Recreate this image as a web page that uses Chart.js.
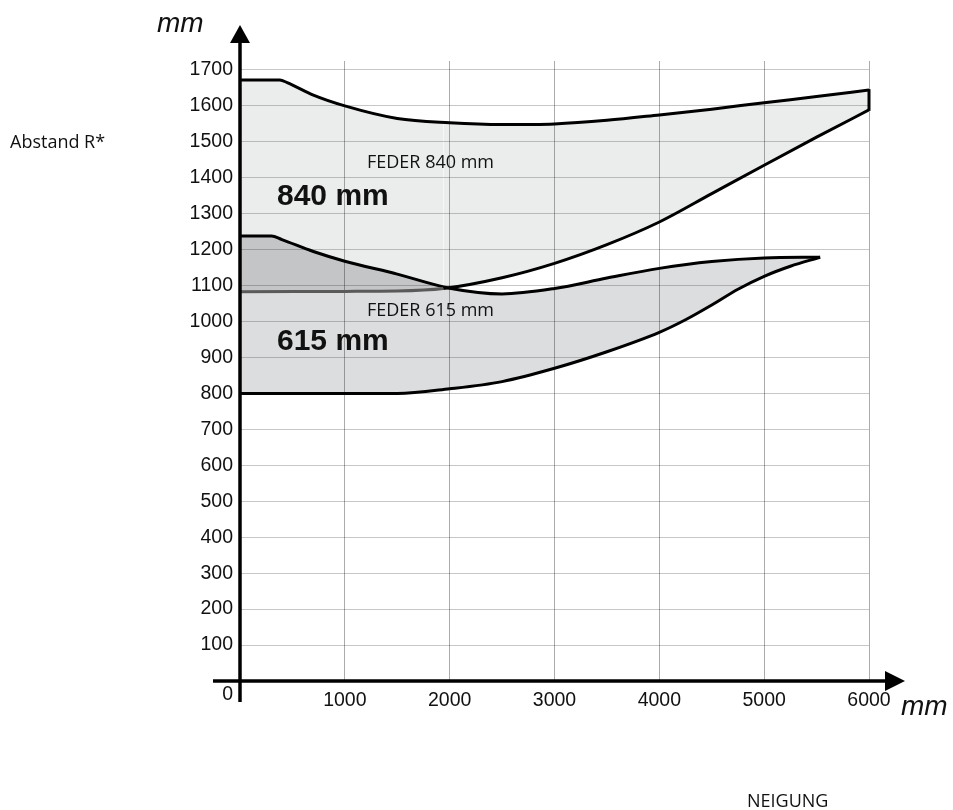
<!DOCTYPE html>
<html>
<head>
<meta charset="utf-8">
<script src="https://cdn.jsdelivr.net/npm/chart.js@4/dist/chart.umd.min.js"></script>
<style>
  html, body { margin: 0; padding: 0; background: #fff; }
  canvas { display: block; }
</style>
</head>
<body>
<canvas id="c" width="953" height="810"></canvas>
<script>
// ---- Data (x = Neigung mm, y = Abstand R* mm) ----
const feder840TopX = [0, 380, 450, 700, 1000, 1500, 2000, 2500, 3000, 3500, 4000, 4500, 5000, 5500, 6000];
const feder840TopY = [1672, 1672, 1665, 1630, 1600, 1565, 1553, 1548, 1550, 1560, 1575, 1591, 1609, 1626, 1644];

const feder840LowX = [0, 1000, 1500, 1940, 2500, 3000, 3500, 4000, 4500, 5000, 5500, 6000];
const feder840LowY = [1083, 1084, 1085, 1092, 1122, 1162, 1214, 1277, 1356, 1435, 1513, 1589];

const feder615TopX = [0, 300, 400, 700, 1000, 1500, 2000, 2500, 3000, 3500, 4000, 4500, 5000, 5534];
const feder615TopY = [1238, 1238, 1228, 1195, 1168, 1132, 1093, 1077, 1092, 1121, 1148, 1167, 1177, 1179];

const feder615LowX = [0, 1500, 2000, 2500, 3000, 3500, 4000, 4250, 4500, 4750, 5000, 5250, 5534];
const feder615LowY = [800, 800, 813, 833, 870, 916, 970, 1005, 1046, 1090, 1126, 1154, 1179];

const xTickValues = [1000, 2000, 3000, 4000, 5000, 6000];
const yTickValues = [100, 200, 300, 400, 500, 600, 700, 800, 900, 1000, 1100, 1200, 1300, 1400, 1500, 1600, 1700];

const overlapUntilX = 1940;

// ---- helpers ----
const pts = (xs, ys) => xs.map((v, i) => ({ x: v, y: ys[i] }));
const tickFont = { family: '"Liberation Sans", Arial, sans-serif', size: 19.5 };

const decor = {
  id: 'decor',
  afterDatasetsDraw(chart) {
    // closing edge of the 840 mm band at its right end (between the two curve end points)
    const { ctx } = chart;
    const top = chart.getDatasetMeta(0).data;
    const low = chart.getDatasetMeta(1).data;
    const a = top[top.length - 1], b = low[low.length - 1];
    ctx.save();
    ctx.strokeStyle = '#000';
    ctx.lineWidth = 3;
    ctx.lineJoin = 'round';
    ctx.beginPath(); ctx.moveTo(a.x, a.y - 1); ctx.lineTo(b.x, b.y + 1); ctx.stroke();
    ctx.restore();
  },
  afterDraw(chart) {
    const { ctx, scales: { x, y } } = chart;
    const x0 = x.getPixelForValue(0);
    const y0 = y.getPixelForValue(0);
    ctx.save();
    ctx.strokeStyle = '#000';
    ctx.fillStyle = '#000';
    ctx.lineWidth = 3.5;
    ctx.lineCap = 'butt';
    // y axis with arrow
    ctx.beginPath(); ctx.moveTo(x0, y0 + 21); ctx.lineTo(x0, 40); ctx.stroke();
    ctx.beginPath(); ctx.moveTo(x0, 25); ctx.lineTo(x0 - 10, 43); ctx.lineTo(x0 + 10, 43); ctx.closePath(); ctx.fill();
    // x axis with arrow
    ctx.beginPath(); ctx.moveTo(x0 - 27, y0); ctx.lineTo(887, y0); ctx.stroke();
    ctx.beginPath(); ctx.moveTo(905, y0); ctx.lineTo(885, y0 - 10); ctx.lineTo(885, y0 + 10); ctx.closePath(); ctx.fill();

    // origin label
    ctx.font = '19.5px "Liberation Sans", Arial, sans-serif';
    ctx.textAlign = 'right'; ctx.textBaseline = 'alphabetic';
    ctx.fillStyle = '#111';
    ctx.fillText('0', 233, 700);

    // unit labels
    ctx.textAlign = 'left';
    ctx.font = 'italic 28px "Liberation Sans", Arial, sans-serif';
    ctx.fillText('mm', 157, 32);
    ctx.fillText('mm', 901, 715);

    // annotations
    ctx.font = '18px "Open Sans", sans-serif';
    ctx.fillText('FEDER 840 mm', 367, 168);
    ctx.fillText('FEDER 615 mm', 367, 316);
    ctx.fillText('Abstand R*', 10, 148);
    ctx.fillText('NEIGUNG', 747, 807);

    ctx.font = 'bold 30px "Liberation Sans", Arial, sans-serif';
    ctx.fillText('840 mm', 277, 205);
    ctx.fillText('615 mm', 277, 350);
    ctx.restore();
  }
};

const common = {
  pointRadius: 0,
  pointHoverRadius: 0,
  borderWidth: 3,
  borderColor: '#000',
  cubicInterpolationMode: 'monotone',
  borderJoinStyle: 'round'
};

new Chart(document.getElementById('c'), {
  type: 'line',
  data: {
    datasets: [
      Object.assign({}, common, {
        label: 'FEDER 840 mm oben',
        data: pts(feder840TopX, feder840TopY),
        fill: false
      }),
      Object.assign({}, common, {
        label: 'FEDER 840 mm unten',
        data: pts(feder840LowX, feder840LowY),
        backgroundColor: 'rgba(20,30,40,0.085)',
        fill: { target: 0 },
        segment: {
          borderColor: c => (feder840LowX[c.p1DataIndex] <= overlapUntilX ? '#5a5a5a' : '#000')
        }
      }),
      Object.assign({}, common, {
        label: 'FEDER 615 mm oben',
        data: pts(feder615TopX, feder615TopY),
        backgroundColor: 'rgba(0,0,0,0)',
        fill: { target: 1, above: 'rgba(0,0,0,0.035)', below: 'rgba(0,0,0,0)' }
      }),
      Object.assign({}, common, {
        label: 'FEDER 615 mm unten',
        data: pts(feder615LowX, feder615LowY),
        backgroundColor: 'rgba(5,12,26,0.14)',
        fill: { target: 2 }
      })
    ]
  },
  options: {
    responsive: false,
    animation: false,
    events: [],
    layout: { padding: { left: 180, right: 84, top: 61, bottom: 89 } },
    plugins: {
      legend: { display: false },
      tooltip: { enabled: false },
      filler: { drawTime: 'beforeDatasetsDraw' }
    },
    scales: {
      x: {
        type: 'linear',
        min: 0,
        max: 6000,
        afterBuildTicks: s => { s.ticks = xTickValues.map(v => ({ value: v })); },
        afterFit: s => { s.height = 40; },
        border: { display: false },
        grid: { color: 'rgba(0,0,0,0.33)', lineWidth: 1, drawTicks: false },
        ticks: { font: tickFont, color: '#111', padding: 8, maxRotation: 0, autoSkip: false, callback: v => String(v) }
      },
      y: {
        type: 'linear',
        min: 0,
        max: 1725,
        afterBuildTicks: s => { s.ticks = yTickValues.map(v => ({ value: v })); },
        afterFit: s => { s.width = 60; },
        border: { display: false },
        grid: { color: 'rgba(0,0,0,0.22)', lineWidth: 1, drawTicks: false },
        ticks: { font: tickFont, color: '#111', padding: 7, autoSkip: false, callback: v => String(v) }
      }
    }
  },
  plugins: [decor]
});
</script>
</body>
</html>
